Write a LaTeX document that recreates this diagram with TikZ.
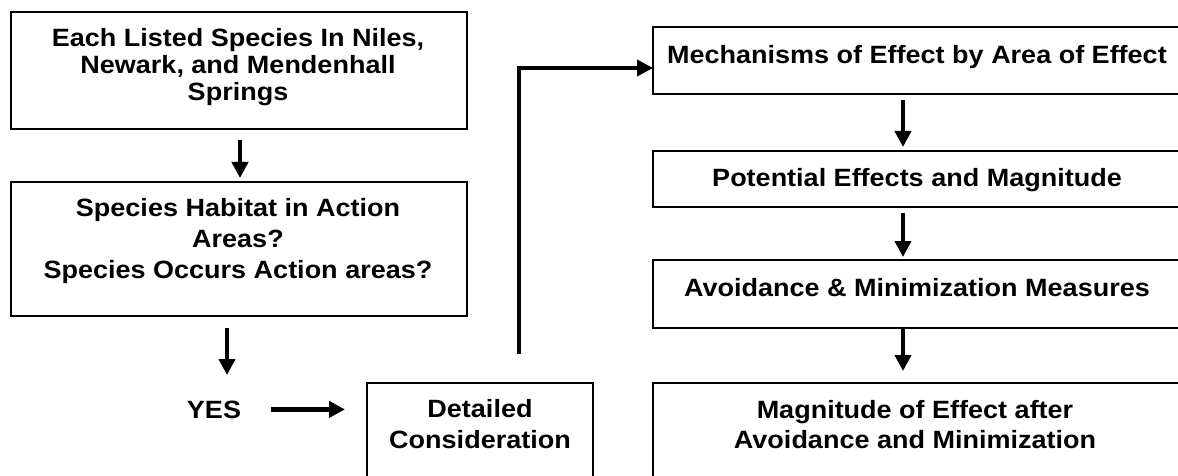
\documentclass[tikz,border=0pt]{standalone}
\usepackage{fontspec}
\setmainfont{Liberation Sans}[FakeStretch=1.08]
\usetikzlibrary{arrows.meta}
\begin{document}
\begin{tikzpicture}[x=1pt,y=-1pt,
  box/.style={draw, line width=1.8pt, inner sep=0pt, outer sep=0pt},
  lbl/.style={anchor=base, inner sep=0pt, font=\bfseries\fontsize{25}{26}\selectfont},
  arr/.style={line width=4.3pt, -{Triangle[length=16pt,width=16pt]}},
  ]
\clip (0,0) rectangle (1178,476);
\fill[white] (0,0) rectangle (1178,476);
% boxes
\node[box, minimum width=456pt, minimum height=117pt] (b1) at (239,70.5) {};
\node[box, minimum width=456pt, minimum height=134pt] (b2) at (239,249) {};
\node[box, minimum width=226pt, minimum height=117pt] (dc) at (480,441.5) {};
\node[box, minimum width=528pt, minimum height=67pt] (r1) at (917,60.5) {};
\node[box, minimum width=528pt, minimum height=56pt] (r2) at (917,179) {};
\node[box, minimum width=528pt, minimum height=68pt] (r3) at (917,294) {};
\node[box, minimum width=528pt, minimum height=117pt] (r4) at (917,441.5) {};
% texts
\node[lbl] (t1a) at (238,47) {Each Listed Species In Niles,};
\node[lbl] (t1b) at (238,74) {Newark, and Mendenhall};
\node[lbl] (t1c) at (238,101) {Springs};
\node[lbl] (t2a) at (238,216) {Species Habitat in Action};
\node[lbl] (t2b) at (238,247) {Areas?};
\node[lbl] (t2c) at (238,278) {Species Occurs Action areas?};
\node[lbl] (yes) at (214,418) {YES};
\node[lbl] (td1) at (480,417) {Detailed};
\node[lbl] (td2) at (480,448) {Consideration};
\node[lbl] (tr1) at (917,64) {Mechanisms of Effect by Area of Effect};
\node[lbl] (tr2) at (917,186) {Potential Effects and Magnitude};
\node[lbl] (tr3) at (917,296) {Avoidance \& Minimization Measures};
\node[lbl] (tr4a) at (915,418) {Magnitude of Effect after};
\node[lbl] (tr4b) at (915,448) {Avoidance and Minimization};
% connectors
\coordinate (a2end) at (227,375);
\draw[arr, shorten <=11pt, shorten >=4pt] ([xshift=1pt]b1.south) -- ([xshift=1pt]b2.north);
\draw[arr, shorten <=12pt] ([xshift=-12pt]b2.south) -- (a2end);
\draw[arr, shorten <=30pt, shorten >=22pt] (yes.east) -- (yes.east -| dc.west);
\draw[arr, shorten <=29pt] ([xshift=39pt]dc.north) |- ([yshift=-7.5pt]r1.west);
\draw[arr, shorten <=6pt, shorten >=4pt] ([xshift=-14pt]r1.south) -- ([xshift=-14pt]r2.north);
\draw[arr, shorten <=6pt, shorten >=3pt] ([xshift=-14pt]r2.south) -- ([xshift=-14pt]r3.north);
\draw[arr, shorten >=12pt] ([xshift=-14pt]r3.south) -- ([xshift=-14pt]r4.north);
\end{tikzpicture}
\end{document}
